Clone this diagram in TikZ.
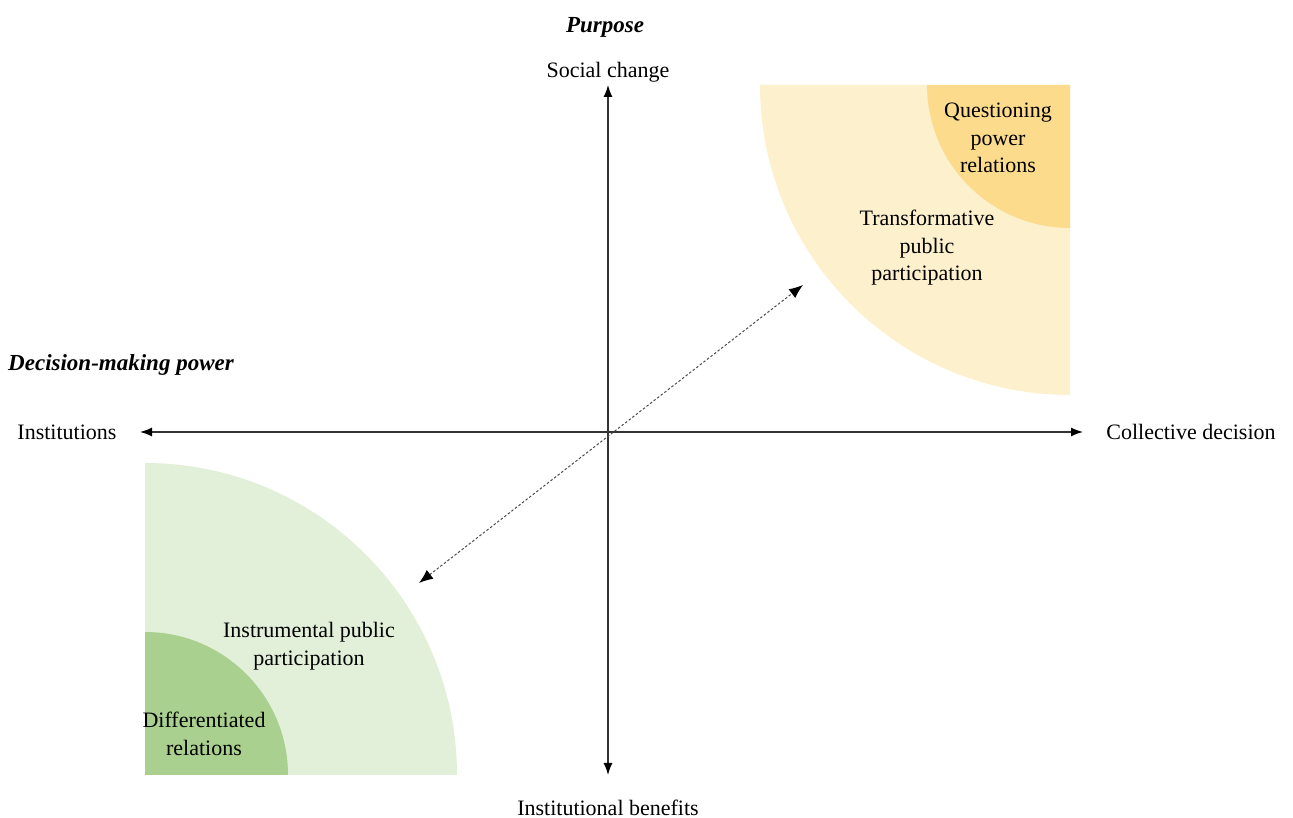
\documentclass[tikz,border=0pt]{standalone}
\usepackage{fontspec}
\setmainfont{Liberation Serif}
\usetikzlibrary{arrows.meta}

\definecolor{paleyellow}{RGB}{253,240,205}
\definecolor{deepyellow}{RGB}{252,220,140}
\definecolor{palegreen}{RGB}{226,239,217}
\definecolor{deepgreen}{RGB}{169,208,142}

\tikzstyle{caption} = [font=\fontsize{22}{27.5}\selectfont, align=center, inner sep=0pt]
\tikzstyle{title caption} = [caption, font=\fontsize{23}{28}\selectfont\bfseries\itshape]
\tikzstyle{axis} = [draw, line width=1.3pt, black!80, -{Latex[length=12pt,width=9pt,black]}]
\tikzstyle{link} = [draw, line width=1pt, black!70, dash pattern=on 2.5pt off 2pt,
    {Latex[length=14pt,width=11pt,black]}-{Latex[length=14pt,width=11pt,black]}]

\begin{document}
\begin{tikzpicture}[x=1pt, y=1pt]
    \useasboundingbox (0,0) rectangle (1293,818);
    % Quarter disks
    \fill[paleyellow] (1070,733) -- (760,733) arc[start angle=180, end angle=270, radius=310pt] -- cycle;
    \fill[deepyellow] (1070,733) -- (927,733) arc[start angle=180, end angle=270, radius=143pt] -- cycle;
    \fill[palegreen] (145,43) -- (457,43) arc[start angle=0, end angle=90, radius=312pt] -- cycle;
    \fill[deepgreen] (145,43) -- (288,43) arc[start angle=0, end angle=90, radius=143pt] -- cycle;
    % Axis end points
    \coordinate (O) at (608,386);
    \coordinate (top) at (608,733);
    \coordinate (bottom) at (608,43);
    \coordinate (left) at (140,386);
    \coordinate (right) at (1083,386);
    \coordinate (upper) at (803,533);
    \coordinate (lower) at (419,235);
    % Captions
    \node[title caption] (purpose) at (605,791) {Purpose};
    \node[title caption] (power) at (121,453) {Decision-making power};
    \foreach \pos/\name/\txt in {{(608,746)/social/Social change},{(67,386)/inst/Institutions},
        {(1191,386)/coll/Collective decision},{(608,10)/benefit/Institutional benefits},
        {(998,680)/quest/Questioning\\power\\relations},
        {(927,570)/transf/Transformative\\public\\participation},
        {(309,172)/instr/Instrumental public\\participation},
        {(204,84)/diff/Differentiated\\relations}}
    \node[caption] (\name) at \pos {\txt};
    % Axes
    \foreach \dest in {top,bottom,left,right}
    \path[axis] (O) -- (\dest);
    \path[link] (lower) -- (upper);
\end{tikzpicture}
\end{document}
